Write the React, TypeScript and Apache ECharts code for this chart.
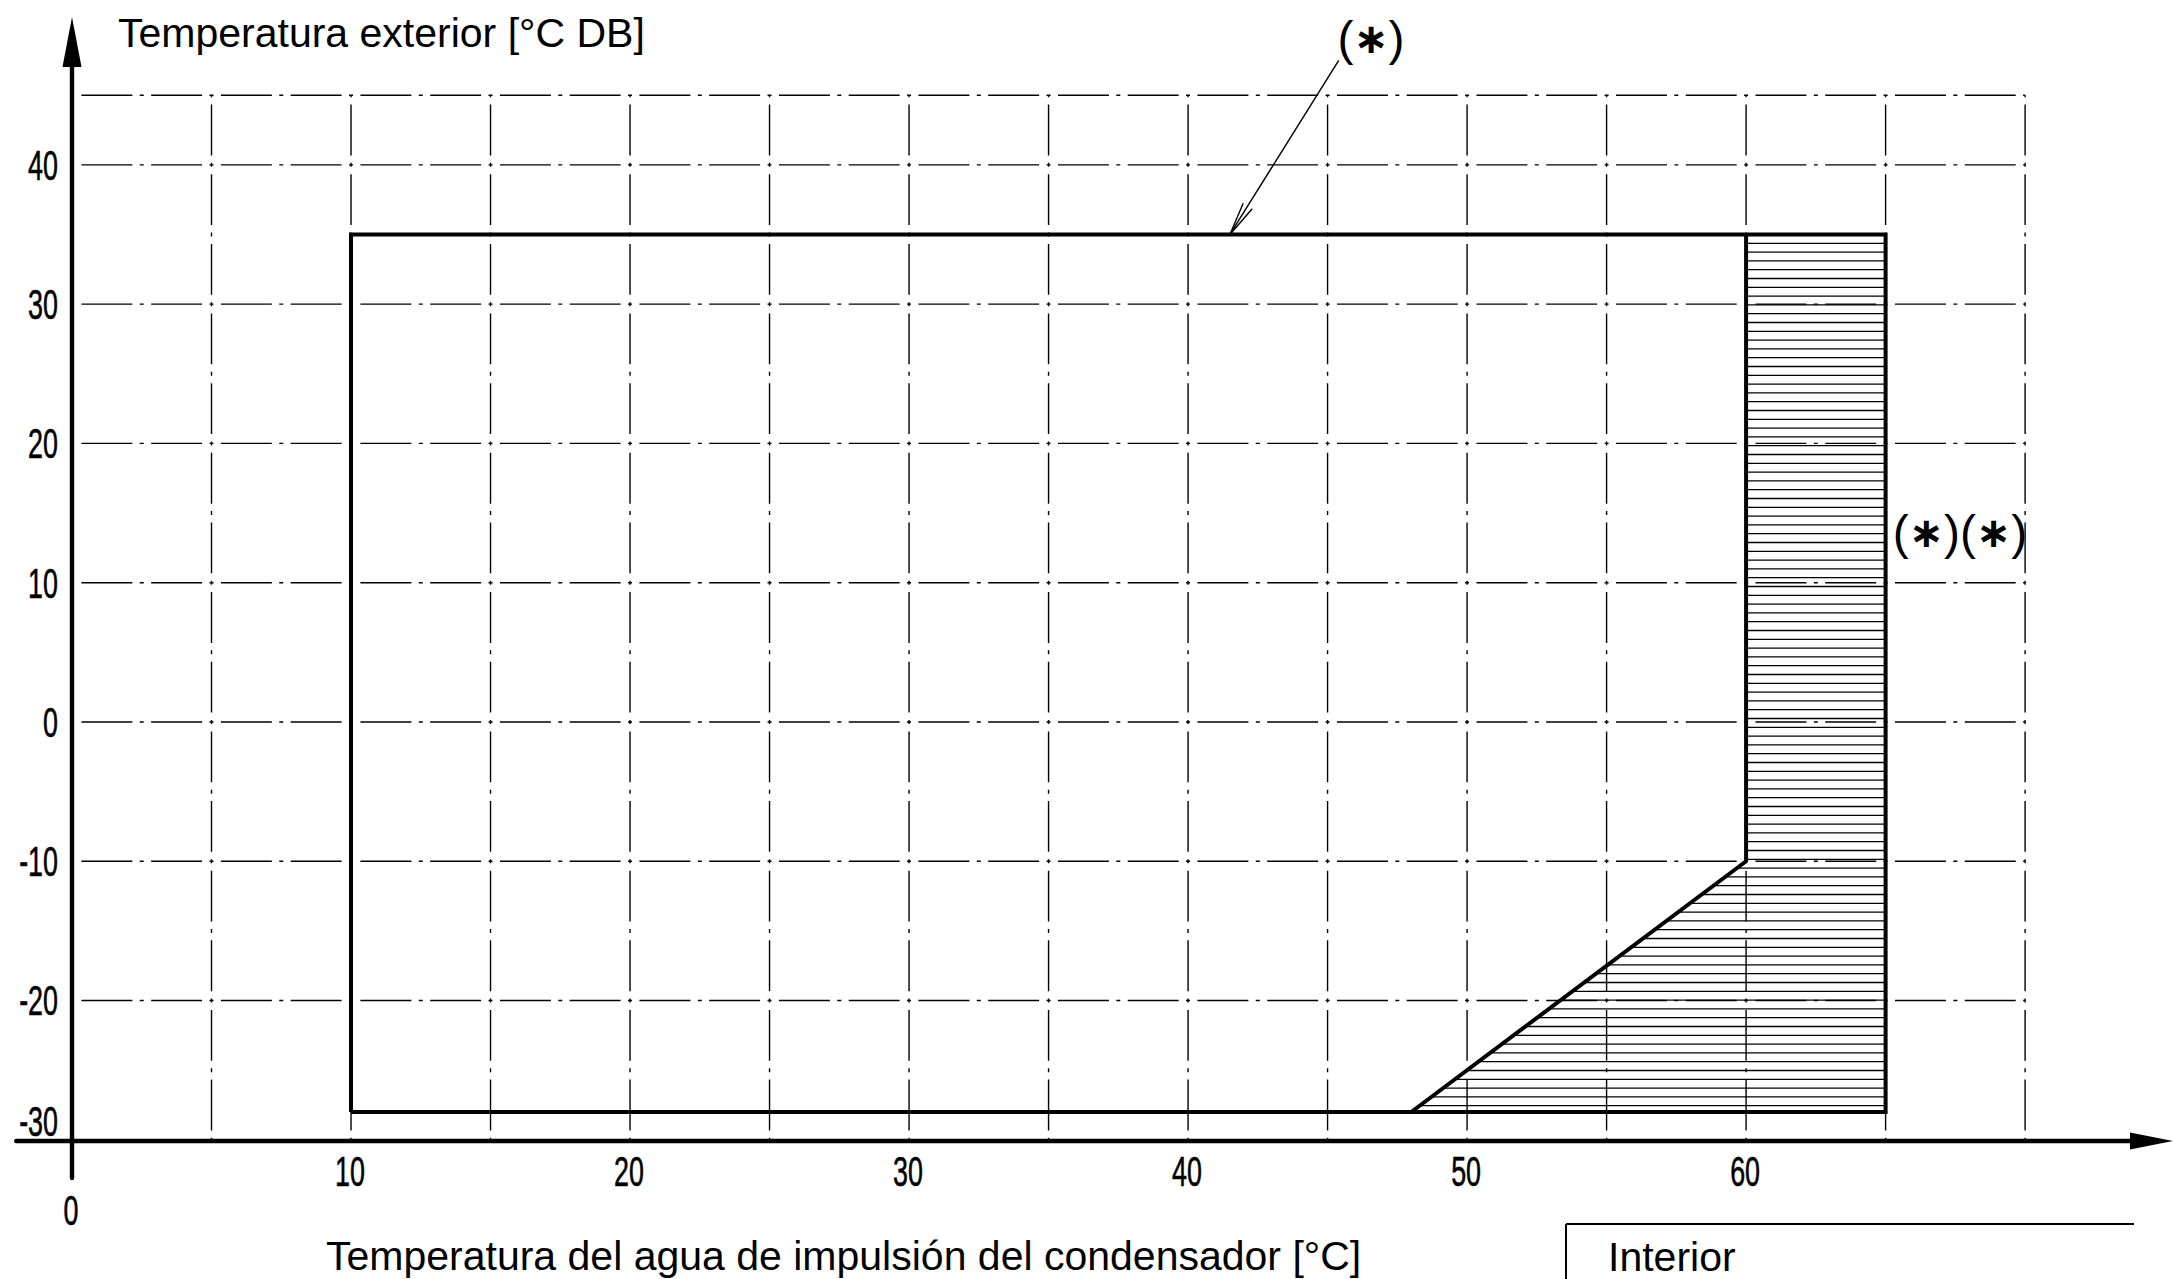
import React, { useEffect, useRef } from "react";
import * as echarts from "echarts";

// ---- tick labels ----
const xTickLabels = [0, 10, 20, 30, 40, 50, 60];
const yTickLabels = [-30, -20, -10, 0, 10, 20, 30, 40];

// ---- dash-dot grid ----
const gridXValues = [5, 10, 15, 20, 25, 30, 35, 40, 45, 50, 55, 60, 65, 70];
const gridYValues = [-20, -10, 0, 10, 20, 30, 40, 45];
const gridXRange = [0, 70];
const gridYRange = [-30, 45];

// ---- operating envelope ----
const envelopeX = [10, 10, 65, 65, 10];
const envelopeY = [-28, 35, 35, -28, -28];
const limitX = [48, 60, 60];
const limitY = [-28, -10, 35];
const hatchX = [48, 60, 60, 65, 65];
const hatchY = [-28, -10, 35, 35, -28];

// ---- leader arrow for (*) ----
const leaderFrom = [45.4, 47.5];
const leaderTo = [41.5, 35];

// ---- texts ----
const yTitle = "Temperatura exterior [°C DB]";
const xTitle = "Temperatura del agua de impulsión del condensador [°C]";
const boxTitle = "Interior";

const SANS = "'Liberation Sans', Arial, sans-serif";
const TICK_SCALE_X = 0.64;

export default function App() {
  const ref = useRef<HTMLDivElement>(null);

  useEffect(() => {
    if (!ref.current) return;
    const chart = echarts.init(ref.current, null, { renderer: "svg" });

    const lineSeriesData = (xs: number[], ys: number[]) => xs.map((x, i) => [x, ys[i]]);

    const tickText = (text: string, x: number, y: number, align: string) => ({
      type: "text",
      x,
      y,
      scaleX: TICK_SCALE_X,
      style: {
        text,
        fontFamily: SANS,
        fontSize: 42,
        lineHeight: 42,
        fill: "#000",
        stroke: "#000",
        lineWidth: 0.6,
        align,
        verticalAlign: "middle",
      },
    });

    const option: any = {
      animation: false,
      backgroundColor: "#ffffff",
      grid: {
        left: 16.2,
        right: 21.5,
        top: 42,
        bottom: 101,
        containLabel: false,
        outerBoundsMode: "none",
      },
      xAxis: {
        type: "value",
        min: -2,
        max: 74.53,
        offset: -37,
        axisLine: {
          onZero: false,
          lineStyle: { color: "#000", width: 4.4 },
          symbol: ["none", "triangle"],
          symbolSize: [17, 43],
        },
        axisTick: { show: false },
        splitLine: { show: false },
        axisLabel: { show: false },
      },
      yAxis: {
        type: "value",
        min: -32.74,
        max: 48.82,
        axisLine: {
          onZero: true,
          lineStyle: { color: "#000", width: 4.4 },
          symbol: ["none", "triangle"],
          symbolSize: [19, 50],
        },
        axisTick: { show: false },
        splitLine: { show: false },
        axisLabel: { show: false },
      },
      series: [
        {
          type: "custom",
          name: "vgrid",
          z: 1,
          silent: true,
          data: gridXValues.map((v) => [v, gridYRange[0]]),
          renderItem: (params: any, api: any) => {
            const v = api.value(0);
            const top = api.coord([v, gridYRange[1]]);
            const bot = api.coord([v, gridYRange[0]]);
            const P = api.size([0, 5])[1];
            const dot = 4, gap = 7.4;
            return {
              type: "line",
              shape: { x1: top[0], y1: top[1], x2: bot[0], y2: bot[1] },
              style: {
                stroke: "#000",
                lineWidth: 1.4,
                lineDash: [dot, gap, P - dot - 2 * gap, gap],
                lineDashOffset: dot / 2,
              },
            };
          },
        },
        {
          type: "custom",
          name: "hgrid",
          z: 1,
          silent: true,
          data: gridYValues.map((v) => [gridXRange[0], v]),
          renderItem: (params: any, api: any) => {
            const v = api.value(1);
            const l = api.coord([gridXRange[0], v]);
            const r = api.coord([gridXRange[1], v]);
            const P = api.size([2.5, 0])[0];
            const dot = 4, gap = 7.4;
            return {
              type: "line",
              shape: { x1: l[0], y1: l[1], x2: r[0], y2: r[1] },
              style: {
                stroke: "#000",
                lineWidth: 1.4,
                lineDash: [dot, gap, P - dot - 2 * gap, gap],
                lineDashOffset: dot / 2,
              },
            };
          },
        },
        {
          type: "custom",
          name: "xTickLabels",
          z: 7,
          silent: true,
          data: xTickLabels.map((v) => [v, gridYRange[0]]),
          renderItem: (params: any, api: any) => {
            const v = api.value(0);
            const p = api.coord([v, api.value(1)]);
            const dy = v === 0 ? 70 : 31;
            return tickText(String(v), p[0] - 1, p[1] + dy, "center");
          },
        },
        {
          type: "custom",
          name: "yTickLabels",
          z: 7,
          silent: true,
          data: yTickLabels.map((v) => [gridXRange[0], v]),
          renderItem: (params: any, api: any) => {
            const v = api.value(1);
            const p = api.coord([api.value(0), v]);
            const dy = v === yTickLabels[0] ? -19 : 0;
            return tickText(String(v), p[0] - 14, p[1] + dy, "right");
          },
        },
        {
          type: "custom",
          name: "hatch",
          z: 3,
          silent: true,
          data: [[hatchX[0], hatchY[0]]],
          renderItem: (params: any, api: any) => {
            const pts = hatchX.map((x, i) => api.coord([x, hatchY[i]]));
            const ys = pts.map((p: number[]) => p[1]);
            const yTop = Math.min(...ys);
            const yBot = Math.max(...ys);
            const step = 8.8;
            const children: any[] = [];
            for (let y = yTop + step; y < yBot - 2; y += step) {
              const xs: number[] = [];
              for (let i = 0; i < pts.length; i++) {
                const a = pts[i];
                const b = pts[(i + 1) % pts.length];
                if ((a[1] <= y && b[1] > y) || (b[1] <= y && a[1] > y)) {
                  const t = (y - a[1]) / (b[1] - a[1]);
                  xs.push(a[0] + t * (b[0] - a[0]));
                }
              }
              xs.sort((m, n) => m - n);
              for (let k = 0; k + 1 < xs.length; k += 2) {
                children.push({
                  type: "line",
                  shape: { x1: xs[k], y1: y, x2: xs[k + 1], y2: y },
                  style: { stroke: "#000", lineWidth: 1.3 },
                });
              }
            }
            return { type: "group", children };
          },
        },
        {
          type: "line",
          name: "envelope",
          z: 5,
          symbol: "none",
          silent: true,
          data: lineSeriesData(envelopeX, envelopeY),
          lineStyle: { color: "#000", width: 4, join: "miter" },
        },
        {
          type: "line",
          name: "limit",
          z: 5,
          symbol: "none",
          silent: true,
          data: lineSeriesData(limitX, limitY),
          lineStyle: { color: "#000", width: 4 },
        },
        {
          type: "custom",
          name: "leader",
          z: 6,
          silent: true,
          dimensions: ["x0", "y0", "x1", "y1"],
          encode: { x: [0, 2], y: [1, 3] },
          data: [[leaderFrom[0], leaderFrom[1], leaderTo[0], leaderTo[1]]],
          renderItem: (params: any, api: any) => {
            const p0 = api.coord([api.value(0), api.value(1)]);
            const p1 = api.coord([api.value(2), api.value(3)]);
            const dx = p0[0] - p1[0];
            const dy = p0[1] - p1[1];
            const len = Math.sqrt(dx * dx + dy * dy);
            const ux = dx / len, uy = dy / len;
            const L = 34, ang = (9 * Math.PI) / 180;
            const rot = (s: number) => [
              p1[0] + L * (ux * Math.cos(s * ang) - uy * Math.sin(s * ang)),
              p1[1] + L * (ux * Math.sin(s * ang) + uy * Math.cos(s * ang)),
            ];
            return {
              type: "group",
              children: [
                {
                  type: "line",
                  shape: { x1: p0[0], y1: p0[1], x2: p1[0], y2: p1[1] },
                  style: { stroke: "#000", lineWidth: 1.4 },
                },
                {
                  type: "polyline",
                  shape: { points: [rot(1), p1, rot(-1)] },
                  style: { stroke: "#000", lineWidth: 1.4, fill: "none" },
                },
              ],
            };
          },
        },
      ],
      graphic: [
        {
          type: "text",
          x: 118,
          y: 33,
          style: {
            text: yTitle,
            fontFamily: SANS,
            fontSize: 41,
            lineHeight: 41,
            fill: "#000",
            align: "left",
            verticalAlign: "middle",
          },
        },
        {
          type: "text",
          x: 326,
          y: 1256,
          style: {
            text: xTitle,
            fontFamily: SANS,
            fontSize: 41,
            lineHeight: 41,
            fill: "#000",
            align: "left",
            verticalAlign: "middle",
          },
        },
        {
          type: "line",
          shape: { x1: 1566, y1: 1224, x2: 2134, y2: 1224 },
          style: { stroke: "#000", lineWidth: 2 },
        },
        {
          type: "line",
          shape: { x1: 1566, y1: 1224, x2: 1566, y2: 1290 },
          style: { stroke: "#000", lineWidth: 2 },
        },
        {
          type: "text",
          x: 1608,
          y: 1257,
          style: {
            text: boxTitle,
            fontFamily: SANS,
            fontSize: 41,
            lineHeight: 41,
            fill: "#000",
            align: "left",
            verticalAlign: "middle",
          },
        },
        {
          type: "text",
          x: 1371,
          y: 38,
          style: {
            text: "{p|(}{a|∗}{p|)}",
            fill: "#000",
            align: "center",
            verticalAlign: "middle",
            rich: {
              p: { fontFamily: SANS, fontSize: 48, fill: "#000" },
              a: { fontFamily: "'DejaVu Sans', sans-serif", fontSize: 42, fontWeight: "bold", fill: "#000" },
            },
          },
        },
        {
          type: "text",
          x: 1960,
          y: 532,
          style: {
            text: "{p|(}{a|∗}{p|)}{p|(}{a|∗}{p|)}",
            fill: "#000",
            align: "center",
            verticalAlign: "middle",
            rich: {
              p: { fontFamily: SANS, fontSize: 48, fill: "#000" },
              a: { fontFamily: "'DejaVu Sans', sans-serif", fontSize: 42, fontWeight: "bold", fill: "#000" },
            },
          },
        },
      ],
    };

    chart.setOption(option);
    return () => {
      chart.dispose();
    };
  }, []);

  return (
    <div
      ref={ref}
      style={{ position: "fixed", left: 0, top: 0, width: 2173, height: 1279, background: "#fff" }}
    />
  );
}
